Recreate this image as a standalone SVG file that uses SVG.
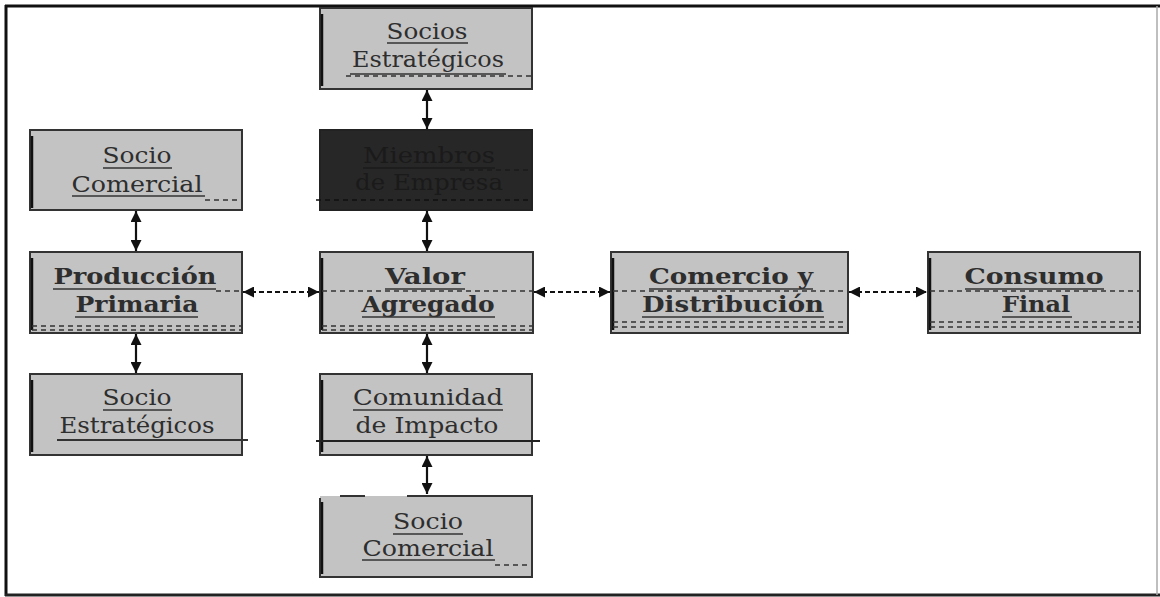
<svg xmlns="http://www.w3.org/2000/svg" width="1160" height="597" viewBox="0 0 1160 597">
<defs>
<style>
.box{fill:#c3c3c3;stroke:#333;stroke-width:2}
.dark{fill:#272727;stroke:#222;stroke-width:2}
.edge{stroke:#111;stroke-width:2.5}
.t{font-family:"DejaVu Serif","Liberation Serif",serif;font-size:22px;fill:#2e2e2e;text-anchor:middle}
.b{font-weight:bold}
.td{fill:#1a1a1a}
.ul{stroke:#333;stroke-width:1.6}
.dash{stroke:#333;stroke-width:1.4;stroke-dasharray:5,4;fill:none}
.con{stroke:#111;stroke-width:2.2;fill:none}
.hd{stroke-dasharray:5,3}
</style>
<marker id="ah" viewBox="0 0 10 10" refX="10" refY="5" markerWidth="12" markerHeight="11" markerUnits="userSpaceOnUse" orient="auto-start-reverse">
<path d="M0,0 L10,5 L0,10 z" fill="#111"/>
</marker>
</defs>
<rect width="1160" height="597" fill="#fff"/>
<g id="frame">
<line x1="5" y1="6" x2="1160" y2="6" stroke="#111" stroke-width="3"/>
<line x1="6" y1="5" x2="6" y2="596" stroke="#111" stroke-width="3"/>
<line x1="5" y1="595" x2="1160" y2="595" stroke="#222" stroke-width="3"/>
<line x1="1157" y1="6" x2="1157" y2="595" stroke="#aaa" stroke-width="1.5"/>
</g>
<g id="connectors">
<line class="con" x1="427" y1="90" x2="427" y2="129" marker-start="url(#ah)" marker-end="url(#ah)"/>
<line class="con" x1="427" y1="211" x2="427" y2="251" marker-start="url(#ah)" marker-end="url(#ah)"/>
<line class="con" x1="427" y1="334" x2="427" y2="373" marker-start="url(#ah)" marker-end="url(#ah)"/>
<line class="con" x1="427" y1="456" x2="427" y2="494" marker-start="url(#ah)" marker-end="url(#ah)"/>
<line class="con" x1="136" y1="211" x2="136" y2="251" marker-start="url(#ah)" marker-end="url(#ah)"/>
<line class="con" x1="136" y1="334" x2="136" y2="373" marker-start="url(#ah)" marker-end="url(#ah)"/>
<line class="con hd" x1="243" y1="292" x2="319" y2="292" marker-start="url(#ah)" marker-end="url(#ah)"/>
<line class="con hd" x1="534" y1="292" x2="610" y2="292" marker-start="url(#ah)" marker-end="url(#ah)"/>
<line class="con hd" x1="849" y1="292" x2="927" y2="292" marker-start="url(#ah)" marker-end="url(#ah)"/>
</g>
<g id="socios-estrategicos-top">
<rect class="box" x="320" y="8" width="212" height="81"/>
<line class="edge" x1="322" y1="14" x2="322" y2="86"/>
<text class="t" x="427" y="39" textLength="81" lengthAdjust="spacingAndGlyphs">Socios</text>
<line class="ul" x1="387" y1="43" x2="468" y2="43"/>
<text class="t" x="428" y="67" textLength="152" lengthAdjust="spacingAndGlyphs">Estratégicos</text>
<line class="dash" x1="346" y1="76" x2="532" y2="76"/>
<line class="ul" x1="350" y1="74" x2="506" y2="74"/>
</g>
<g id="socio-comercial-left">
<rect class="box" x="30" y="130" width="212" height="80"/>
<line class="edge" x1="32" y1="136" x2="32" y2="208"/>
<text class="t" x="137" y="163" textLength="69" lengthAdjust="spacingAndGlyphs">Socio</text>
<line class="ul" x1="103" y1="168" x2="172" y2="168"/>
<text class="t" x="137" y="192" textLength="131" lengthAdjust="spacingAndGlyphs">Comercial</text>
<line class="ul" x1="72" y1="196" x2="205" y2="196"/>
<line class="dash" x1="205" y1="200" x2="242" y2="200"/>
</g>
<g id="miembros-de-empresa">
<rect class="dark" x="320" y="130" width="212" height="80"/>
<text class="t td" x="429" y="163" textLength="132" lengthAdjust="spacingAndGlyphs">Miembros</text>
<line x1="363" y1="168" x2="495" y2="168" stroke="#1b1b1b" stroke-width="1.5"/>
<text class="t td" x="429" y="190" textLength="148" lengthAdjust="spacingAndGlyphs">de Empresa</text>
<line x1="316" y1="200" x2="532" y2="200" stroke="#111" stroke-width="1.4" stroke-dasharray="5,4"/>
<line x1="460" y1="170" x2="532" y2="170" stroke="#1b1b1b" stroke-width="1.4" stroke-dasharray="5,4"/>
</g>
<g id="produccion-primaria">
<rect class="box" x="30" y="252" width="212" height="81"/>
<line class="edge" x1="32" y1="258" x2="32" y2="330"/>
<text class="t b" x="135" y="284" textLength="163" lengthAdjust="spacingAndGlyphs">Producción</text>
<line class="ul" x1="53" y1="289" x2="216" y2="289"/>
<line class="dash" x1="216" y1="291" x2="242" y2="291"/>
<text class="t b" x="137" y="312" textLength="123" lengthAdjust="spacingAndGlyphs">Primaria</text>
<line class="ul" x1="75" y1="317" x2="198" y2="317"/>
<line class="dash" x1="32" y1="326" x2="242" y2="326"/>
<line class="dash" x1="32" y1="330" x2="242" y2="330"/>
</g>
<g id="valor-agregado">
<rect class="box" x="320" y="252" width="213" height="81"/>
<line class="edge" x1="322" y1="258" x2="322" y2="330"/>
<text class="t b" x="425" y="284" textLength="80" lengthAdjust="spacingAndGlyphs">Valor</text>
<line class="ul" x1="385" y1="289" x2="465" y2="289"/>
<line class="dash" x1="322" y1="291" x2="533" y2="291"/>
<text class="t b" x="428" y="312" textLength="133" lengthAdjust="spacingAndGlyphs">Agregado</text>
<line class="ul" x1="362" y1="317" x2="495" y2="317"/>
<line class="dash" x1="322" y1="326" x2="533" y2="326"/>
<line class="dash" x1="322" y1="330" x2="533" y2="330"/>
</g>
<g id="comercio-distribucion">
<rect class="box" x="611" y="252" width="237" height="81"/>
<line class="edge" x1="613" y1="258" x2="613" y2="330"/>
<text class="t b" x="731" y="284" textLength="164" lengthAdjust="spacingAndGlyphs">Comercio y</text>
<line class="ul" x1="649" y1="289" x2="813" y2="289"/>
<line class="dash" x1="613" y1="291" x2="848" y2="291"/>
<text class="t b" x="733" y="312" textLength="182" lengthAdjust="spacingAndGlyphs">Distribución</text>
<line class="ul" x1="642" y1="317" x2="824" y2="317"/>
<line class="dash" x1="613" y1="322" x2="848" y2="322"/>
<line class="dash" x1="613" y1="327" x2="848" y2="327"/>
</g>
<g id="consumo-final">
<rect class="box" x="928" y="252" width="212" height="81"/>
<line class="edge" x1="930" y1="258" x2="930" y2="330"/>
<text class="t b" x="1034" y="284" textLength="139" lengthAdjust="spacingAndGlyphs">Consumo</text>
<line class="ul" x1="965" y1="289" x2="1104" y2="289"/>
<line class="dash" x1="930" y1="291" x2="1140" y2="291"/>
<text class="t b" x="1036" y="312" textLength="68" lengthAdjust="spacingAndGlyphs">Final</text>
<line class="ul" x1="1002" y1="317" x2="1072" y2="317"/>
<line class="dash" x1="930" y1="322" x2="1140" y2="322"/>
<line class="dash" x1="930" y1="327" x2="1140" y2="327"/>
</g>
<g id="socio-estrategicos-left">
<rect class="box" x="30" y="374" width="212" height="81"/>
<line class="edge" x1="32" y1="380" x2="32" y2="452"/>
<text class="t" x="137" y="405" textLength="69" lengthAdjust="spacingAndGlyphs">Socio</text>
<line class="ul" x1="103" y1="410" x2="172" y2="410"/>
<text class="t" x="137" y="433" textLength="155" lengthAdjust="spacingAndGlyphs">Estratégicos</text>
<line x1="57" y1="440" x2="248" y2="440" stroke="#333" stroke-width="1.8"/>
</g>
<g id="comunidad-de-impacto">
<rect class="box" x="320" y="374" width="212" height="81"/>
<line class="edge" x1="322" y1="380" x2="322" y2="452"/>
<text class="t" x="428" y="405" textLength="150" lengthAdjust="spacingAndGlyphs">Comunidad</text>
<line class="ul" x1="353" y1="410" x2="503" y2="410"/>
<text class="t" x="427" y="433" textLength="143" lengthAdjust="spacingAndGlyphs">de Impacto</text>
<line x1="316" y1="441" x2="540" y2="441" stroke="#222" stroke-width="2"/>
</g>
<g id="socio-comercial-bottom">
<rect x="320" y="496" width="212" height="81" fill="#c3c3c3"/>
<path d="M320,498 V577 H532 V496 H407 M365,496 H340" fill="none" stroke="#333" stroke-width="2"/>
<line class="edge" x1="322" y1="502" x2="322" y2="574"/>
<text class="t" x="428" y="529" textLength="70" lengthAdjust="spacingAndGlyphs">Socio</text>
<line class="ul" x1="393" y1="534" x2="463" y2="534"/>
<text class="t" x="428" y="556" textLength="131" lengthAdjust="spacingAndGlyphs">Comercial</text>
<line class="ul" x1="362" y1="560" x2="495" y2="560"/>
<line class="dash" x1="495" y1="565" x2="532" y2="565"/>
</g>
</svg>
